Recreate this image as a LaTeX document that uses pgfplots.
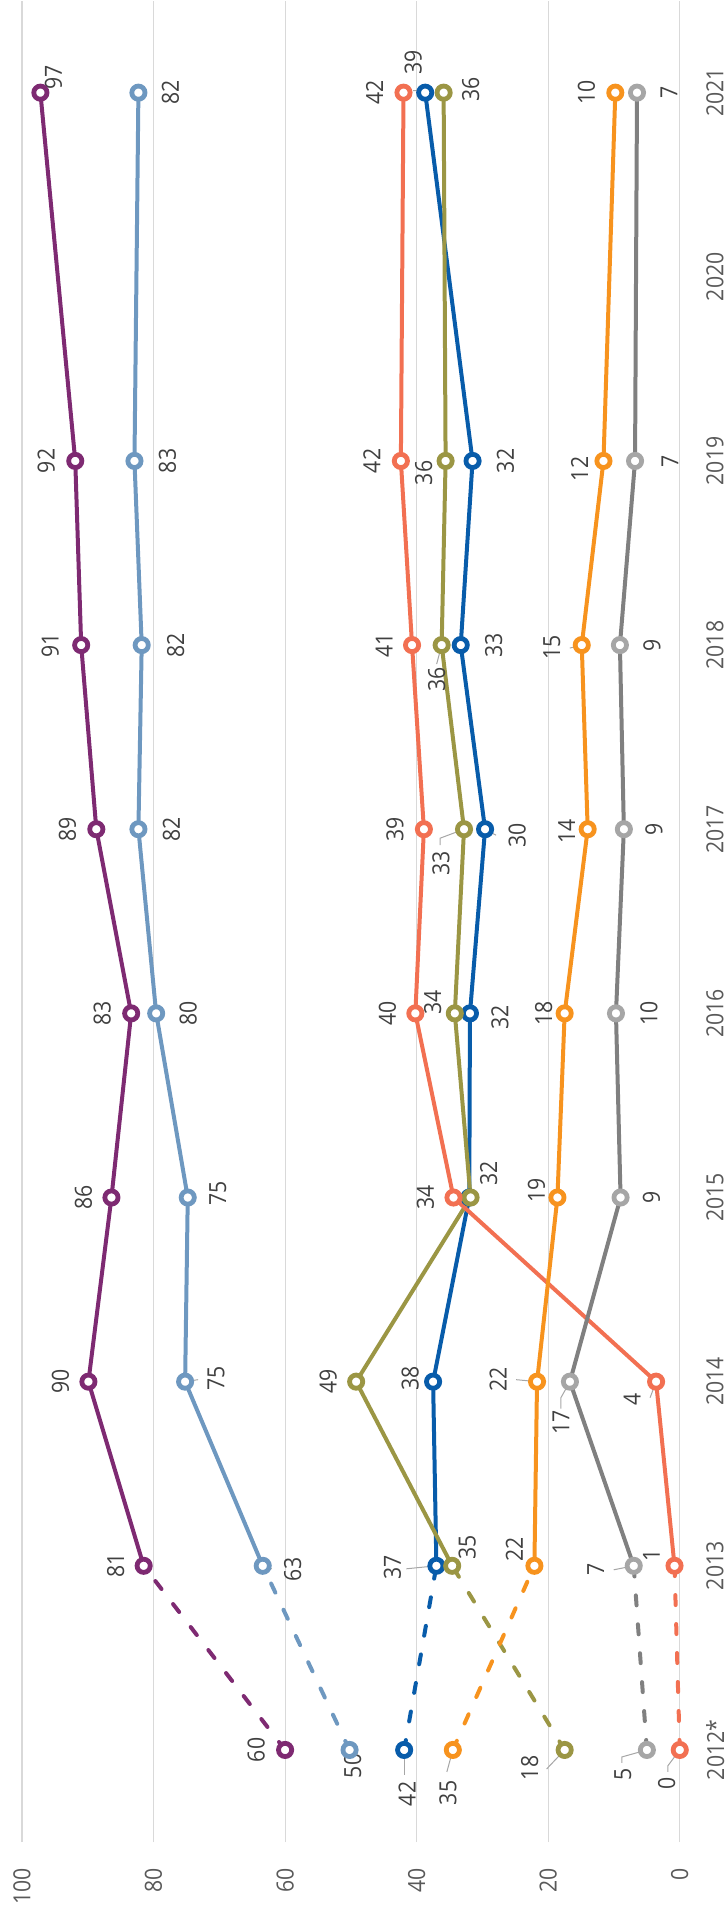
\documentclass[border=0pt]{standalone}
\usepackage{fontspec}
\setmainfont{Open Sans}[FakeStretch=0.9]
\usepackage{pgfplots}
\pgfplotsset{compat=1.18}
\definecolor{cPur}{RGB}{126,42,114}
\definecolor{cLbl}{RGB}{110,152,192}
\definecolor{cBlu}{RGB}{8,92,170}
\definecolor{cOli}{RGB}{155,150,68}
\definecolor{cRed}{RGB}{242,112,82}
\definecolor{cOra}{RGB}{247,147,30}
\definecolor{cGry}{RGB}{128,128,128}
\definecolor{cGryM}{RGB}{166,166,166}
\definecolor{cGrid}{RGB}{217,217,217}
\definecolor{cLab}{RGB}{64,64,64}
\definecolor{cTick}{RGB}{89,89,89}
\definecolor{cLead}{RGB}{166,166,166}
\pgfplotsset{
  ser/.style={draw=#1, line width=2pt, mark=*, mark size=3.3pt,
    mark options={solid, draw=#1, fill=white, line width=2.4pt}},
  dsh/.style={draw=#1, line width=2pt, line cap=round, dash pattern=on 5pt off 9.5pt,
    mark=*, mark indices={1}, mark size=3.3pt,
    mark options={solid, draw=#1, fill=white, line width=2.4pt}},
}
\newcommand{\lb}[5]{\node[lbl] at ([xshift={(#3)*0.5pt},yshift={(#4)*(-0.5pt)}]axis cs:#1,#2) {#5};}
\begin{document}
\begin{tikzpicture}[
  lbl/.style={rotate=90, anchor=center, inner sep=0pt, font=\fontsize{11.8}{13}\selectfont, text=cLab},
  leader/.style={draw=cLead, line width=0.5pt}]
\begin{axis}[
  scale only axis,
  width=329pt, height=921pt,
  xmin=0, xmax=100, x dir=reverse,
  ymin=-0.5, ymax=9.5,
  xtick={0,20,40,60,80,100},
  ytick={0,1,2,3,4,5,6,7,8,9},
  yticklabels={2012*,2013,2014,2015,2016,2017,2018,2019,2020,2021},
  xmajorgrids, ymajorgrids=false,
  grid style={draw=cGrid, line width=0.6pt},
  axis line style={draw=none},
  major tick style={draw=none},
  yticklabel pos=right,
  xticklabel style={rotate=90, anchor=east, inner sep=0pt, font=\fontsize{11.8}{13}\selectfont, text=cTick},
  xticklabel shift=13pt,
  yticklabel style={rotate=90, anchor=north, inner sep=0pt, font=\fontsize{11.8}{13}\selectfont, text=cTick},
  yticklabel shift=13pt,
  /pgf/number format/assume math mode=true,
  clip=false,
]
% purple
\addplot[dsh=cPur] coordinates {(60,0) (81.5,1)};
\addplot[ser=cPur] coordinates {(81.5,1) (89.9,2) (86.4,3) (83.4,4) (88.7,5) (91.0,6) (91.9,7) (97.2,9)};
% light blue
\addplot[dsh=cLbl] coordinates {(50.2,0) (63.4,1)};
\addplot[ser=cLbl] coordinates {(63.4,1) (75.2,2) (74.8,3) (79.6,4) (82.3,5) (81.8,6) (82.9,7) (82.3,9)};
% blue
\addplot[dsh=cBlu] coordinates {(41.9,0) (37.0,1)};
\addplot[ser=cBlu] coordinates {(37.0,1) (37.5,2) (32.0,3) (31.9,4) (29.6,5) (33.3,6) (31.5,7) (38.7,9)};
% olive
\addplot[dsh=cOli] coordinates {(17.5,0) (34.6,1)};
\addplot[ser=cOli] coordinates {(34.6,1) (49.2,2) (31.8,3) (34.2,4) (32.8,5) (36.2,6) (35.6,7) (35.9,9)};
% red
\addplot[dsh=cRed] coordinates {(0,0) (0.8,1)};
\addplot[ser=cRed] coordinates {(0.8,1) (3.6,2) (34.4,3) (40.2,4) (38.9,5) (40.7,6) (42.4,7) (42.0,9)};
% orange
\addplot[dsh=cOra] coordinates {(34.5,0) (22.1,1)};
\addplot[ser=cOra] coordinates {(22.1,1) (21.7,2) (18.6,3) (17.5,4) (14.0,5) (14.9,6) (11.6,7) (9.8,9)};
% grey
\addplot[dsh=cGry, mark options={solid, draw=cGryM, fill=white, line width=2.4pt}] coordinates {(5.0,0) (7.0,1)};
\addplot[ser=cGry, mark options={solid, draw=cGryM, fill=white, line width=2.4pt}] coordinates {(7.0,1) (16.7,2) (9.0,3) (9.7,4) (8.5,5) (9.1,6) (6.8,7) (6.5,9)};

% leader lines
\draw[leader] (axis cs:41.9,0) -- ++(0pt,-12.5pt);
\draw[leader] (axis cs:34.5,0) -- ++(-3pt,-11pt);
\draw[leader] (axis cs:17.5,0) -- ++(-9pt,-9.5pt);
\draw[leader] (axis cs:5,0) -- ++(-12.5pt,-3.5pt) -- ++(0pt,-3pt);
\draw[leader] (axis cs:0,0) -- ++(-6pt,-8pt) -- ++(0pt,-3pt);
\draw[leader] (axis cs:37,1) -- ++(-15pt,-1.5pt);
\draw[leader] (axis cs:7,1) -- ++(-10pt,-2pt);
\draw[leader] (axis cs:63.4,1) -- ++(4.5pt,-1.5pt);
\draw[leader] (axis cs:21.7,2) -- ++(-10.5pt,1pt);
\draw[leader] (axis cs:16.7,2) -- ++(-4.5pt,-8pt) -- ++(0pt,-5.5pt);
\draw[leader] (axis cs:3.6,2) -- ++(-3pt,-8pt);
\draw[leader] (axis cs:75.2,2) -- ++(6.5pt,1pt);
\draw[leader] (axis cs:32.8,5) -- ++(-12pt,-4.5pt) -- ++(0pt,-3.5pt);
\draw[leader] (axis cs:29.6,5) -- ++(5.5pt,-3pt);
\draw[leader] (axis cs:36.2,6) -- ++(-2.5pt,-9.5pt);
\draw[leader] (axis cs:14.9,6) -- ++(-6pt,-1.5pt);
\draw[leader] (axis cs:11.6,7) -- ++(-3pt,-2.5pt);
\draw[leader] (axis cs:38.7,9) -- ++(-3pt,1pt) -- ++(-3pt,0pt);
\draw[leader] (axis cs:35.9,9) -- ++(3.5pt,1pt);

% labels 2012*
\lb{60}{0}{-29}{0}{60}
\lb{50.2}{0}{3}{16}{50}
\lb{41.9}{0}{3}{44}{42}
\lb{34.5}{0}{-5}{43}{35}
\lb{17.5}{0}{-35}{18}{18}
\lb{5}{0}{-24}{24}{5}
\lb{0}{0}{-13}{33}{0}
% 2013
\lb{81.5}{1}{-28}{0}{81}
\lb{63.4}{1}{30}{4}{63}
\lb{37}{1}{-44}{2}{37}
\lb{34.6}{1}{15}{-18}{35}
\lb{22.1}{1}{-20}{-16}{22}
\lb{7}{1}{-38}{4}{7}
\lb{0.8}{1}{-23}{-10}{1}
% 2014
\lb{89.9}{2}{-28}{0}{90}
\lb{75.2}{2}{31}{-3}{75}
\lb{49.2}{2}{-28}{0}{49}
\lb{37.5}{2}{-23}{-3}{38}
\lb{21.7}{2}{-39}{-2}{22}
\lb{16.7}{2}{-9}{41}{17}
\lb{3.6}{2}{-24}{18}{4}
% 2015
\lb{86.4}{3}{-28}{0}{86}
\lb{74.8}{3}{30}{-4}{75}
\lb{34.4}{3}{-28}{0}{34}
\lb{31.8}{3}{18}{-24}{32}
\lb{18.6}{3}{-21}{-7}{19}
\lb{9.0}{3}{31}{0}{9}
% 2016
\lb{83.4}{4}{-29}{0}{83}
\lb{79.6}{4}{32}{0}{80}
\lb{40.2}{4}{-28}{0}{40}
\lb{34.2}{4}{-22}{-11}{34}
\lb{31.9}{4}{30}{4}{32}
\lb{17.5}{4}{-21}{0}{18}
\lb{9.7}{4}{33}{0}{10}
% 2017
\lb{88.7}{5}{-29}{0}{89}
\lb{82.3}{5}{33}{0}{82}
\lb{38.9}{5}{-29}{0}{39}
\lb{32.8}{5}{-23}{34}{33}
\lb{29.6}{5}{32}{6}{30}
\lb{14.0}{5}{-21}{2}{14}
\lb{8.5}{5}{30}{0}{9}
% 2018
\lb{91.0}{6}{-31}{0}{91}
\lb{81.8}{6}{34}{0}{82}
\lb{40.7}{6}{-28}{0}{41}
\lb{36.2}{6}{-5}{34}{36}
\lb{33.3}{6}{33}{0}{33}
\lb{14.9}{6}{-30}{2}{15}
\lb{9.1}{6}{32}{0}{9}
% 2019
\lb{91.9}{7}{-29}{0}{92}
\lb{82.9}{7}{33}{0}{83}
\lb{42.4}{7}{-29}{0}{42}
\lb{35.6}{7}{-22}{12}{36}
\lb{31.5}{7}{33}{0}{32}
\lb{11.6}{7}{-24}{8}{12}
\lb{6.8}{7}{35}{0}{7}
% 2021
\lb{97.2}{9}{13}{-15}{97}
\lb{82.3}{9}{32}{0}{82}
\lb{42.0}{9}{-29}{0}{42}
\lb{38.7}{9}{-12}{-30}{39}
\lb{35.9}{9}{27}{-3}{36}
\lb{9.8}{9}{-29}{0}{10}
\lb{6.5}{9}{32}{0}{7}
\end{axis}
\path ([xshift=-11pt,yshift=-36pt]current axis.south west) rectangle ([xshift=24pt]current axis.north east);
\end{tikzpicture}
\end{document}
